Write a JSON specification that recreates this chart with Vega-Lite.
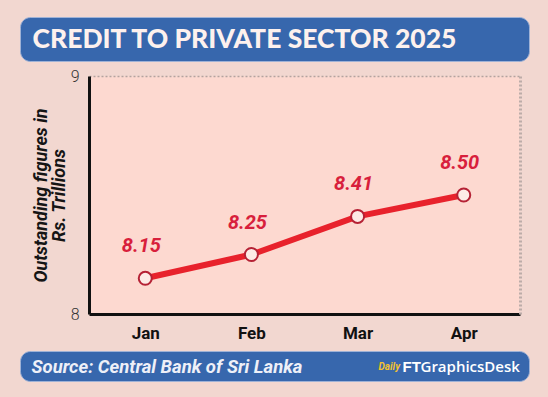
{
  "$schema": "https://vega.github.io/schema/vega-lite/v6.json",
  "background": "#f2d7d0",
  "padding": {"left": 19, "top": 16, "right": 20, "bottom": 17},
  "spacing": 15,
  "bounds": "flush",
  "config": {"view": {"stroke": null}, "font": "Roboto"},
  "vconcat": [
    {
      "width": 509,
      "height": 44,
      "view": {"fill": "#3767ad", "stroke": "#9fb2d6", "strokeWidth": 1, "cornerRadius": 10},
      "data": {"values": [{"title": "CREDIT TO PRIVATE SECTOR 2025"}]},
      "mark": {"type": "text", "align": "left", "baseline": "middle", "dx": -242, "dy": 1, "font": "Lato", "fontWeight": 900, "fontSize": 26.5, "color": "#fdf1ee"},
      "encoding": {"text": {"field": "title"}}
    },
    {
      "width": 500,
      "height": 238,
      "data": {"values": [
        {"month": "Jan", "value": 8.15},
        {"month": "Feb", "value": 8.25},
        {"month": "Mar", "value": 8.41},
        {"month": "Apr", "value": 8.50}
      ]},
      "layer": [
        {
          "mark": {"type": "line", "color": "#e8222c", "strokeWidth": 6},
          "encoding": {
            "x": {
              "field": "month", "type": "ordinal", "sort": null,
              "scale": {"type": "point", "padding": 0.53, "range": [69, 500]},
              "axis": {"title": null, "grid": true, "gridColor": "#fdd9d0", "gridWidth": 110, "gridOpacity": 1, "ticks": false, "domainColor": "#111111", "domainWidth": 3, "labelPadding": 11, "labelFont": "Roboto", "labelFontWeight": "bold", "labelFontSize": 17, "labelColor": "#111111", "labelAngle": 0}
            },
            "y": {
              "field": "value", "type": "quantitative",
              "scale": {"domain": [8, 9], "zero": false},
              "axis": {"offset": -69, "values": [8, 9], "format": "d", "grid": false, "ticks": false, "domainColor": "#111111", "domainWidth": 3, "labelPadding": 10, "labelFont": "Roboto", "labelFontSize": 16, "labelFontWeight": 300, "labelColor": "#333333",
                "title": ["Outstanding figures in", "Rs. Trillions"], "titleFont": "Roboto", "titleFontSize": 18, "titleFontStyle": "italic", "titleFontWeight": "bold", "titleColor": "#151515", "titleLineHeight": 18, "titlePadding": 2}
            }
          }
        },
        {
          "mark": {"type": "point", "filled": true, "fill": "#fdebe6", "stroke": "#b52235", "strokeWidth": 2, "size": 170, "opacity": 1},
          "encoding": {
            "x": {
              "field": "month", "type": "ordinal", "sort": null,
              "scale": {"type": "point", "padding": 0.53, "range": [69, 500]},
              "axis": {"orient": "top", "title": null, "labels": false, "ticks": false, "grid": false, "domainColor": "#b3a39f", "domainWidth": 1.5, "domainDash": [2, 2]}
            },
            "y": {
              "field": "value", "type": "quantitative",
              "scale": {"domain": [8, 9], "zero": false},
              "axis": {"orient": "right", "title": null, "labels": false, "ticks": false, "grid": false, "domainColor": "#bcaca8", "domainWidth": 3, "domainDash": [2, 2]}
            }
          }
        },
        {
          "mark": {"type": "text", "dy": -32, "dx": -4, "fontStyle": "italic", "fontWeight": "bold", "fontSize": 20, "color": "#d81f3c", "font": "Roboto"},
          "encoding": {
            "x": {"field": "month", "type": "ordinal", "sort": null, "axis": null},
            "y": {"field": "value", "type": "quantitative", "axis": null},
            "text": {"field": "value", "type": "quantitative", "format": ".2f"}
          }
        }
      ],
      "resolve": {"axis": {"x": "independent", "y": "independent"}}
    },
    {
      "width": 509,
      "height": 7,
      "data": {"values": []},
      "mark": {"type": "point"}
    },
    {
      "width": 509,
      "height": 30,
      "view": {"fill": "#3767ad", "stroke": "#9fb2d6", "strokeWidth": 1, "cornerRadius": 10},
      "data": {"values": [{"source": "Source: Central Bank of Sri Lanka", "daily": "Daily", "ft": "FT", "desk": "GraphicsDesk"}]},
      "layer": [
        {"mark": {"type": "text", "align": "left", "baseline": "middle", "dx": -243, "dy": 1, "font": "Roboto", "fontStyle": "italic", "fontWeight": "bold", "fontSize": 18.5, "color": "#eef0f8"},
         "encoding": {"text": {"field": "source"}}},
        {"mark": {"type": "text", "align": "left", "baseline": "middle", "dx": 104, "dy": 1, "font": "Roboto", "fontStyle": "italic", "fontWeight": "bold", "fontSize": 10, "color": "#f2c230"},
         "encoding": {"text": {"field": "daily"}}},
        {"mark": {"type": "text", "align": "left", "baseline": "middle", "dx": 128, "dy": 1, "font": "Liberation Sans", "fontWeight": "bold", "fontSize": 15, "color": "#ffffff"},
         "encoding": {"text": {"field": "ft"}}},
        {"mark": {"type": "text", "align": "left", "baseline": "middle", "dx": 146, "dy": 1, "font": "Open Sans", "fontWeight": 600, "fontSize": 15, "color": "#ffffff"},
         "encoding": {"text": {"field": "desk"}}}
      ]
    }
  ]
}
